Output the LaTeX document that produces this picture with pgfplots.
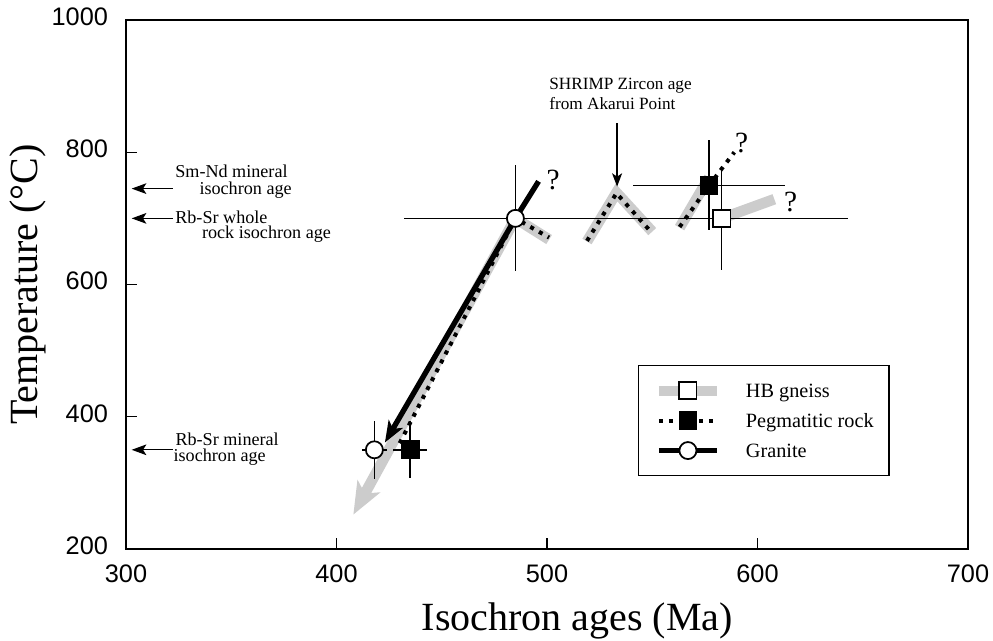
\documentclass[border=0pt]{standalone}
\usepackage{fontspec}
\setmainfont{Liberation Serif}
\setsansfont{Liberation Sans}
\usepackage{pgfplots}
\pgfplotsset{compat=1.18}
\usepackage{pgfplotstable}
\usetikzlibrary{arrows.meta}
\definecolor{bandgray}{gray}{0.8}
\newcommand{\anfont}{\fontsize{13.6}{16}\selectfont}

% HB gneiss
\pgfplotstableread{
x y ex ey
583 700 60 78
}\hbdata
% Pegmatitic rock
\pgfplotstableread{
x y ex ey
435 350 8 43
577 750 36 68
}\pegdata
% Granite
\pgfplotstableread{
x y ex ey
418 350 6 44
485 700 53 80
}\gradata

\begin{document}
\begin{tikzpicture}
\useasboundingbox (-94.5pt,-69pt) rectangle (650.25pt,411.75pt);
\begin{axis}[
  at={(0pt,0pt)}, anchor=south west,
  scale only axis, width=631.5pt, height=396.75pt,
  xmin=300, xmax=700, ymin=200, ymax=1000,
  xtick={300,400,...,700}, ytick={200,400,...,1000},
  tick align=inside, tick pos=left, major tick length=8pt,
  axis line style={line width=1pt}, tick style={line width=1pt, black},
  ticklabel style={font=\fontsize{19}{22}\selectfont\sffamily},
  /pgf/number format/assume math mode=true, /pgf/number format/1000 sep={},
  xticklabel style={inner sep=0pt, anchor=north, yshift=-12pt},
  yticklabel style={inner sep=0pt, anchor=east, xshift=-13.3pt, yshift=2.5pt},
  xlabel={Isochron ages (Ma)}, ylabel={Temperature (°C)},
  xlabel style={font=\fontsize{30}{36}\selectfont, at={(axis description cs:0.536,-0.155)}, anchor=base},
  ylabel style={font=\fontsize{30}{36}\selectfont, at={(axis description cs:-0.1057,0.5)}, anchor=base},
  clip=false,
  legend style={at={(axis description cs:0.608,0.348)}, anchor=north west, draw=black, line width=1pt, fill=white,
    inner xsep=11.5pt, inner ysep=10.75pt, row sep=6.5pt, font=\fontsize{15.2}{18}\selectfont,
    nodes={inner sep=0pt, text height=13pt, text depth=3pt, anchor=west},
    /tikz/every odd column/.append style={column sep=18pt}},
  legend cell align=left,
  legend image code/.code={\draw[mark repeat=2,mark phase=2,#1] plot coordinates {(0pt,0pt) (21.75pt,0pt) (43.5pt,0pt)};},
]
% legend images
\addlegendimage{bandgray, line width=7.5pt, mark=square*, mark size=6.5pt, mark options={draw=black, fill=white, line width=1.3pt, solid}}
\addlegendentry{HB gneiss}
\addlegendimage{black, line width=3pt, dash pattern=on 3pt off 4.5pt, mark=square*, mark size=6.6pt, mark options={draw=black, fill=black, line width=0.8pt, solid}}
\addlegendentry{Pegmatitic rock}
\addlegendimage{black, line width=3.8pt, mark=*, mark size=6.4pt, mark options={draw=black, fill=white, line width=1.3pt, solid}}
\addlegendentry{Granite}

% HB gneiss paths (gray band)
\addplot[forget plot, bandgray, line width=8pt, line join=miter, -{Stealth[length=24pt,width=19pt,inset=6pt]}] coordinates {(501,668) (485,700) (408,252)};
\addplot[forget plot, bandgray, line width=8pt, line join=miter] coordinates {(519,665) (533,739) (550,680)};
\addplot[forget plot, bandgray, line width=8pt, line join=miter] coordinates {(563,686) (577,762)};
\addplot[forget plot, bandgray, line width=8pt] coordinates {(583,700) (608,729)};

% Pegmatitic rock paths (dotted)
\addplot[forget plot, black, line width=3pt, dash pattern=on 3pt off 4.5pt] coordinates {(430,360) (485,700) (501,671)};
\addplot[forget plot, black, line width=3pt, dash pattern=on 3pt off 4.5pt] coordinates {(519,666) (533,738) (549,681)};
\addplot[forget plot, black, line width=3pt, dash pattern=on 3pt off 4.5pt] coordinates {(563,687) (577,750) (589,800)};

% Granite path
\addplot[forget plot, black, line width=4pt, -{Stealth[length=16pt,width=12pt,inset=4pt]}] coordinates {(496,756) (485,700) (423,361)};

% error bars
\addplot[forget plot, draw=none, mark=none, error bars/.cd, x dir=both, x explicit, y dir=both, y explicit, error mark=none, error bar style={draw=black, line width=1.1pt, solid}] table[x=x, y=y, x error=ex, y error=ey] {\gradata};
\addplot[forget plot, draw=none, mark=none, error bars/.cd, x dir=both, x explicit, y dir=both, y explicit, error mark=none, error bar style={draw=black, line width=1.1pt, solid}] table[x=x, y=y, x error=ex, y error=ey] {\hbdata};
\addplot[forget plot, draw=none, mark=none, error bars/.cd, x dir=both, x explicit, y dir=both, y explicit, error mark=none, error bar style={draw=black, line width=1.1pt, solid}] table[x=x, y=y, x error=ex, y error=ey] {\pegdata};

% markers
\addplot[forget plot, only marks, mark=square*, mark size=6.5pt, mark options={draw=black, fill=white, line width=1.3pt}] table[x=x, y=y] {\hbdata};
\addplot[forget plot, only marks, mark=square*, mark size=6.6pt, mark options={draw=black, fill=black, line width=0.8pt}] table[x=x, y=y] {\pegdata};
\addplot[forget plot, only marks, mark=*, mark size=6.4pt, mark options={draw=black, fill=white, line width=1.3pt}] table[x=x, y=y] {\gradata};

% annotation arrows
\addplot[forget plot, black, line width=1pt, -{Stealth[length=11pt,width=8pt,inset=2.5pt]}] coordinates {(322.3,745) (302.7,745)};
\addplot[forget plot, black, line width=1pt, -{Stealth[length=11pt,width=8pt,inset=2.5pt]}] coordinates {(322.3,700) (302.7,700)};
\addplot[forget plot, black, line width=1pt, -{Stealth[length=11pt,width=8pt,inset=2.5pt]}] coordinates {(322.3,350) (302.7,350)};
\addplot[forget plot, black, line width=1pt, -{Stealth[length=10pt,width=7.5pt,inset=2.5pt]}] coordinates {(533.3,844) (533.3,748)};

% annotation texts
\node[anchor=base west, inner sep=0pt, font=\anfont] at (axis cs:323.3,761.5) {Sm-Nd mineral};
\node[anchor=base west, inner sep=0pt, font=\anfont] at (axis cs:334.8,736.5) {isochron age};
\node[anchor=base west, inner sep=0pt, font=\anfont] at (axis cs:323.3,693) {Rb-Sr whole};
\node[anchor=base west, inner sep=0pt, font=\anfont] at (axis cs:336,669) {rock isochron age};
\node[anchor=base west, inner sep=0pt, font=\anfont] at (axis cs:323.4,357) {Rb-Sr mineral};
\node[anchor=base west, inner sep=0pt, font=\anfont] at (axis cs:322.5,332) {isochron age};
\node[anchor=base west, inner sep=0pt, font=\fontsize{12.9}{15}\selectfont] at (axis cs:501,895.2) {SHRIMP Zircon age};
\node[anchor=base west, inner sep=0pt, font=\fontsize{12.9}{15}\selectfont] at (axis cs:501,865) {from Akarui Point};
\node[inner sep=0pt, font=\fontsize{22}{26}\selectfont] at (axis cs:502.9,758) {?};
\node[inner sep=0pt, font=\fontsize{22}{26}\selectfont] at (axis cs:592.5,813.5) {?};
\node[inner sep=0pt, font=\fontsize{22}{26}\selectfont] at (axis cs:615.8,725) {?};
\end{axis}
\end{tikzpicture}
\end{document}
